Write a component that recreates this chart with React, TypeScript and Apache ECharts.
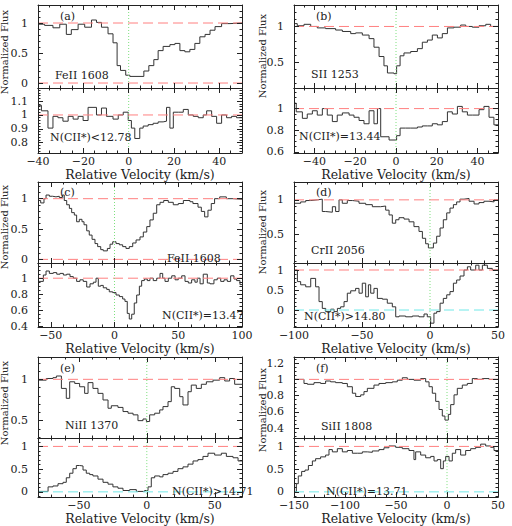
import React, { useEffect, useRef } from "react";
import * as echarts from "echarts";

// ---------- data (step histograms: bin edges in km/s, normalized flux per bin) ----------
// Panel (a) FeII 1608 / CII*
const aTopEdges = [-40, -37.1, -33.4, -30.4, -27.5, -25.3, -22.3, -19.4, -16.4, -14.2, -12, -9.1, -6.9, -5.1, -3.6, -1.3, 0.5, 6.7, 8.9, 11.1, 13, 15.2, 18.2, 20.4, 22.6, 24.8, 27, 29.2, 31.4, 33.7, 35.9, 38.1, 41, 44.7, 50];
const aTopFlux = [0.98, 0.96, 0.92, 0.98, 0.81, 0.89, 0.98, 0.93, 1.05, 1.01, 0.93, 0.82, 0.67, 0.29, 0.21, 0.13, 0.11, 0.2, 0.29, 0.39, 0.54, 0.61, 0.64, 0.66, 0.54, 0.52, 0.56, 0.66, 0.77, 0.81, 0.88, 0.94, 0.99, 1.0];
const aBotEdges = [-40, -38.5, -35.6, -33.4, -31.2, -29, -26.7, -24.5, -22.3, -20.1, -17.9, -14.2, -12, -9.8, -6.9, -4.6, -2.4, -0.2, 1.2, 2.7, 4.9, 6.4, 8.6, 10.8, 13, 15.2, 16.7, 18.2, 19.7, 21.9, 24.1, 26.3, 28.5, 30.7, 32.9, 34.4, 36.6, 38.8, 41, 43.2, 45.4, 47.6, 50];
const aBotFlux = [1.07, 1.03, 0.905, 0.99, 0.98, 0.955, 0.99, 0.97, 0.99, 0.96, 1.055, 1.0, 1.05, 0.99, 0.97, 1.0, 1.02, 0.96, 0.905, 0.83, 0.905, 0.92, 0.93, 0.94, 0.95, 0.955, 1.055, 0.905, 1.02, 1.02, 1.04, 1.0, 0.99, 0.98, 1.0, 1.03, 0.99, 0.94, 1.0, 0.98, 0.99, 0.98];

// Panel (b) SII 1253 / CII*
const bTopEdges = [-50, -48.4, -45.1, -41.8, -38.6, -34.5, -29.6, -26.3, -22.2, -19.8, -16.5, -13.2, -10.8, -8.3, -5.9, -4.2, -1, 0.3, 2, 3.9, 7.2, 10.5, 12.9, 15.4, 17.8, 20.3, 22.7, 25.2, 28.4, 31.7, 34.2, 37.4, 40.7, 44, 46.4, 50];
const bTopFlux = [1.04, 1.01, 1.03, 1.0, 0.98, 0.97, 0.95, 0.93, 0.9, 0.91, 0.88, 0.83, 0.71, 0.58, 0.45, 0.35, 0.34, 0.45, 0.59, 0.63, 0.65, 0.69, 0.78, 0.81, 0.88, 0.84, 0.9, 0.98, 0.99, 1.02, 1.0, 0.99, 1.01, 1.03, 1.0];
const bBotEdges = [-50, -48.9, -45.9, -43.5, -41, -38.6, -36.1, -33.7, -31.2, -28.8, -26.3, -23, -20.6, -18.1, -15.7, -13.2, -10.8, -9.1, -7.5, -3.4, 0.3, 2, 4.7, 7.2, 10.5, 12.9, 15.4, 17.8, 20.3, 22.7, 25.2, 27.6, 30.1, 32.5, 35, 37.4, 40.7, 43.1, 45.6, 48, 50];
const bBotFlux = [1.05, 0.97, 0.91, 0.95, 0.98, 0.94, 1.0, 0.94, 0.88, 0.94, 0.96, 0.94, 0.92, 0.89, 0.86, 0.98, 0.86, 1.0, 0.74, 0.71, 0.75, 0.82, 0.82, 0.82, 0.83, 0.84, 0.84, 0.86, 0.85, 0.88, 0.97, 0.95, 1.02, 0.97, 0.94, 0.94, 0.99, 1.02, 0.92, 0.85];

// Panel (c) FeII 1608 / CII*
const cTopEdges = [-60, -57.9, -55.3, -53.7, -51.1, -48.5, -45.9, -43.3, -40.9, -39.4, -37.5, -35.4, -33.6, -31.5, -29.7, -27.6, -25.5, -23.9, -21.8, -19.8, -17.6, -15.3, -13.2, -10.8, -8.8, -5.6, -3.5, -1.4, 1.2, 3.8, 6.4, 9, 11.6, 14.3, 16.9, 20, 22.6, 25.3, 27.8, 30.4, 33.1, 35.7, 38.6, 42.2, 46.1, 50, 54, 59.2, 61.5, 65.5, 68.1, 70.7, 73.3, 75.9, 78.5, 82.5, 87.7, 92.9, 100];
const cTopFlux = [0.97, 0.93, 1.0, 1.06, 1.04, 1.03, 1.04, 1.02, 1.06, 0.97, 0.9, 0.84, 0.77, 0.73, 0.62, 0.66, 0.62, 0.57, 0.47, 0.4, 0.33, 0.26, 0.21, 0.16, 0.14, 0.18, 0.25, 0.29, 0.26, 0.24, 0.21, 0.18, 0.21, 0.27, 0.32, 0.37, 0.45, 0.54, 0.65, 0.76, 0.9, 0.94, 0.97, 0.94, 0.9, 0.92, 0.97, 0.95, 0.92, 0.86, 0.79, 0.7, 0.81, 0.92, 1.0, 1.03, 1.0, 0.99];
const cBotEdges = [-60, -55.8, -53.7, -51.1, -48, -45.3, -42.7, -40.1, -37.5, -34.9, -32.3, -29.7, -27.1, -24.5, -21.8, -19.2, -16.6, -14.5, -12.7, -10.8, -8.8, -6.1, -4.1, -1.4, 1.2, 3.8, 6.4, 8.2, 10, 11.6, 13.5, 15.5, 17.4, 19.5, 21.3, 23.4, 25.7, 27.8, 30.4, 33.1, 35.7, 37.8, 39.6, 42.2, 44.9, 47.5, 50, 52.7, 55.3, 57.9, 60.5, 63.1, 64.9, 67.1, 69.6, 72.8, 74.9, 78, 80.6, 83.3, 85.9, 88.5, 91.1, 93.7, 95.8, 98.4, 100];
const cBotFlux = [0.96, 1.04, 1.09, 1.06, 1.07, 1.05, 1.06, 1.04, 1.05, 1.02, 1.0, 0.96, 0.98, 0.96, 0.89, 0.93, 0.95, 1.0, 0.9, 0.91, 0.88, 0.86, 0.83, 0.82, 0.79, 0.77, 0.74, 0.71, 0.56, 0.49, 0.55, 0.69, 0.79, 0.9, 0.97, 0.99, 0.97, 1.0, 0.97, 1.0, 1.06, 1.0, 0.96, 1.0, 1.03, 0.98, 1.0, 1.03, 0.96, 0.94, 0.98, 0.95, 1.0, 0.93, 1.05, 0.94, 0.93, 0.98, 1.0, 0.96, 0.98, 0.96, 1.03, 0.99, 0.97, 0.92];

// Panel (d) CrII 2056 / CII*
const dTopEdges = [-100, -95.1, -91.4, -87.7, -82.8, -79.2, -76.7, -71.8, -69.4, -66.9, -64.5, -60.8, -57.1, -52.2, -47.3, -42.4, -36.3, -32.6, -30.1, -27.7, -25.2, -22.8, -19.1, -15.4, -11.8, -8.1, -5.6, -3.2, -1.2, 2.5, 4.9, 7.4, 9.8, 12.3, 14.7, 17.2, 19.6, 22.1, 25, 28.7, 32.4, 36, 39.7, 43.4, 47.1, 50];
const dTopFlux = [0.95, 0.97, 0.99, 1.0, 1.01, 0.83, 0.82, 0.9, 0.83, 1.0, 0.95, 0.99, 0.98, 0.95, 0.93, 0.9, 0.91, 0.85, 0.78, 0.66, 0.71, 0.74, 0.72, 0.68, 0.61, 0.54, 0.44, 0.36, 0.3, 0.37, 0.47, 0.59, 0.71, 0.81, 0.88, 0.93, 0.97, 1.01, 1.02, 0.98, 0.94, 0.96, 0.98, 0.97, 1.0];
const dBotEdges = [-100, -97.5, -95.1, -91.4, -87.7, -84.1, -81.6, -79.2, -76.7, -73, -70.6, -68.1, -65.7, -63.2, -60.8, -58.3, -54.7, -52.2, -49.8, -47.3, -45.3, -43.6, -41.2, -38.7, -35, -31.4, -27.7, -25.2, -22.8, -17.9, -13, -8.1, -4.4, -2, 0.5, 2.9, 4.9, 7.4, 9.8, 12.3, 14.7, 17.2, 19.6, 22.1, 25, 27.5, 29.9, 33.6, 36, 38.5, 42.2, 45.8, 50];
const dBotFlux = [1.0, 0.71, 0.63, 0.58, 0.79, 0.58, 0.21, 0.04, -0.04, 0.02, -0.04, 0.04, 0.08, 0.21, 0.42, 0.48, 0.54, 0.42, 0.67, 0.33, 0.63, 0.42, 0.54, 0.29, 0.27, 0.17, 0.08, -0.17, -0.15, -0.17, -0.15, -0.17, -0.1, -0.17, -0.33, -0.08, -0.04, 0.17, 0.29, 0.38, 0.46, 0.67, 0.75, 0.85, 1.0, 1.08, 1.0, 1.12, 1.0, 1.12, 1.04, 1.0];

// Panel (e) NiII 1370 / CII*
const eTopEdges = [-80, -73.9, -69, -66.5, -62.8, -59.2, -56.7, -53, -49.4, -45.7, -43.2, -39.6, -35.9, -32.2, -28.5, -26.1, -21.2, -17.5, -13.8, -10.1, -6.5, -2.8, -0.3, 2.1, 5.8, 9.5, 11.9, 15.6, 18, 20.5, 24.2, 26.6, 30.3, 32.7, 36.4, 40.1, 43.8, 48.7, 53.6, 57.3, 60.9, 64.6, 70];
const eTopFlux = [0.99, 1.01, 1.02, 1.04, 0.89, 0.77, 0.97, 0.95, 0.91, 0.83, 0.96, 0.89, 0.83, 0.75, 0.65, 0.68, 0.66, 0.61, 0.59, 0.57, 0.5, 0.52, 0.49, 0.57, 0.59, 0.63, 0.67, 0.73, 0.91, 0.89, 0.79, 0.69, 0.85, 0.93, 0.89, 0.94, 0.97, 0.99, 1.02, 0.98, 1.01, 0.94];
const eBotEdges = [-80, -76.3, -72.6, -69, -65.3, -61.6, -59.2, -56.7, -54.3, -51.8, -49.4, -46.9, -44.5, -42, -39.6, -35.9, -32.2, -28.5, -24.9, -21.2, -17.5, -12.6, -7.7, -1.6, 0.9, 3.3, 5.8, 9.5, 11.9, 15.6, 19.3, 22.9, 26.6, 30.3, 34, 37.6, 41.3, 45, 49.9, 54.8, 58.5, 63.4, 67.1, 70];
const eBotFlux = [0.01, 0.01, 0.11, 0.13, 0.18, 0.21, 0.31, 0.41, 0.51, 0.58, 0.57, 0.48, 0.41, 0.38, 0.35, 0.28, 0.21, 0.17, 0.11, 0.08, 0.03, 0.05, 0.01, 0.03, 0.11, 0.31, 0.35, 0.33, 0.38, 0.41, 0.45, 0.51, 0.55, 0.61, 0.68, 0.71, 0.78, 0.85, 0.81, 0.85, 0.78, 0.75, 0.68];

// Panel (f) SiII 1808 / CII*
const fTopEdges = [-150, -140.2, -136.9, -130.4, -123.9, -119, -114.1, -109.2, -102.6, -97.7, -92.8, -89.5, -84.6, -81.4, -78.1, -71.6, -66.7, -60.1, -53.6, -48.7, -43.8, -38.9, -32.4, -25.8, -20.9, -17.6, -14.4, -11.1, -7.8, -4.6, -2, 1.3, 3.6, 6.9, 10.1, 15, 19.9, 24.8, 29.7, 34.6, 41.2, 50];
const fTopFlux = [1.0, 0.95, 0.94, 0.96, 0.95, 0.98, 0.97, 0.96, 0.95, 0.91, 0.83, 0.79, 0.81, 0.85, 0.89, 0.93, 0.95, 0.96, 0.97, 0.99, 1.02, 1.0, 0.99, 1.01, 0.97, 0.91, 0.83, 0.73, 0.63, 0.55, 0.5, 0.57, 0.69, 0.81, 0.89, 0.93, 0.95, 1.01, 1.0, 1.01, 1.0];
const fBotEdges = [-150, -147.7, -145.8, -142.5, -139.2, -135.9, -132, -128.8, -123.9, -119, -115.7, -112.4, -107.5, -102.6, -97.7, -92.8, -87.9, -83, -78.1, -73.2, -66.7, -61.8, -56.9, -50.3, -43.8, -37.3, -32.4, -30.7, -25.8, -20.9, -16, -12.7, -9.5, -6.2, -3.6, -1.3, 2, 5.2, 8.5, 13.4, 18.3, 23.2, 28.1, 33, 37.9, 42.8, 46.1, 50];
const fBotFlux = [0.0, 0.18, 0.35, 0.45, 0.48, 0.58, 0.68, 0.73, 0.77, 0.81, 0.93, 0.88, 0.95, 0.88, 0.91, 0.85, 0.85, 0.88, 0.87, 0.9, 0.93, 0.97, 1.01, 0.98, 0.95, 0.91, 0.71, 0.88, 0.81, 0.75, 0.78, 0.68, 0.71, 0.51, 0.68, 0.78, 0.68, 0.85, 0.93, 0.81, 0.91, 0.95, 0.98, 1.05, 1.01, 0.98, 0.91];

// tick labels
const xTicksAB = [-40, -20, 0, 20, 40];
const xTicksC = [-50, 0, 50, 100];
const xTicksD = [-100, -50, 0, 50];
const xTicksE = [-50, 0, 50];
const xTicksF = [-150, -100, -50, 0, 50];
const yTicksHalf0 = [0, 0.5, 1];
const yTicksHalf = [0.5, 1];
const yTicksABot = [0.8, 0.9, 1, 1.1];
const yTicksBBot = [0.6, 0.8, 1];
const yTicksCBot = [0.4, 0.6, 0.8, 1];
const yTicksFTop = [0.4, 0.6, 0.8, 1, 1.2];

const panelTags = ["(a)", "(b)", "(c)", "(d)", "(e)", "(f)"];
const ionNames = ["FeII 1608", "SII 1253", "FeII 1608", "CrII 2056", "NiII 1370", "SiII 1808"];
const columnTexts = ["N(CII*)<12.78", "N(CII*)=13.44", "N(CII*)=13.47", "N(CII*)>14.80", "N(CII*)>14.71", "N(CII*)=13.71"];

// ---------- layout & style ----------
const FONT = "DejaVu Serif";
const INK = "#222";
const HIST = "#333";
const RED = "#ff8080";
const CYAN = "#70e8e8";
const GREEN = "#7ee07e";
const COLS = [38, 294];
const PW = 204;
const ROWS = [
  [5, 88, 153],
  [182, 263, 327],
  [357, 438, 503],
];

type Sub = {
  edges: number[];
  flux: number[];
  yr: [number, number];
  yTicks: number[];
  yMinor: number;
  red: number[];
  cyan: number[];
};
type Panel = {
  col: number;
  row: number;
  xr: [number, number];
  xTicks: number[];
  xMinor: number;
  top: Sub;
  bot: Sub;
};

const panels: Panel[] = [
  {
    col: 0, row: 0, xr: [-40, 50], xTicks: xTicksAB, xMinor: 5,
    top: { edges: aTopEdges, flux: aTopFlux, yr: [-0.083, 1.3], yTicks: yTicksHalf0, yMinor: 0.1, red: [1, 0], cyan: [] },
    bot: { edges: aBotEdges, flux: aBotFlux, yr: [0.725, 1.195], yTicks: yTicksABot, yMinor: 0.02, red: [1], cyan: [] },
  },
  {
    col: 1, row: 0, xr: [-50, 50], xTicks: xTicksAB, xMinor: 5,
    top: { edges: bTopEdges, flux: bTopFlux, yr: [0.14, 1.3], yTicks: yTicksHalf, yMinor: 0.1, red: [1], cyan: [] },
    bot: { edges: bBotEdges, flux: bBotFlux, yr: [0.59, 1.19], yTicks: yTicksBBot, yMinor: 0.05, red: [1], cyan: [] },
  },
  {
    col: 0, row: 1, xr: [-60, 100], xTicks: xTicksC, xMinor: 10,
    top: { edges: cTopEdges, flux: cTopFlux, yr: [-0.06, 1.275], yTicks: yTicksHalf0, yMinor: 0.1, red: [1, 0], cyan: [] },
    bot: { edges: cBotEdges, flux: cBotFlux, yr: [0.39, 1.19], yTicks: yTicksCBot, yMinor: 0.05, red: [1], cyan: [] },
  },
  {
    col: 1, row: 1, xr: [-100, 50], xTicks: xTicksD, xMinor: 10,
    top: { edges: dTopEdges, flux: dTopFlux, yr: [0.08, 1.26], yTicks: yTicksHalf, yMinor: 0.1, red: [1], cyan: [] },
    bot: { edges: dBotEdges, flux: dBotFlux, yr: [-0.425, 1.175], yTicks: yTicksHalf0, yMinor: 0.1, red: [1], cyan: [0] },
  },
  {
    col: 0, row: 2, xr: [-80, 70], xTicks: xTicksE, xMinor: 10,
    top: { edges: eTopEdges, flux: eTopFlux, yr: [0.29, 1.27], yTicks: yTicksHalf, yMinor: 0.1, red: [1], cyan: [] },
    bot: { edges: eBotEdges, flux: eBotFlux, yr: [-0.115, 1.185], yTicks: yTicksHalf0, yMinor: 0.1, red: [1], cyan: [0] },
  },
  {
    col: 1, row: 2, xr: [-150, 50], xTicks: xTicksF, xMinor: 10,
    top: { edges: fTopEdges, flux: fTopFlux, yr: [0.28, 1.275], yTicks: yTicksFTop, yMinor: 0.05, red: [1], cyan: [] },
    bot: { edges: fBotEdges, flux: fBotFlux, yr: [-0.115, 1.185], yTicks: yTicksHalf0, yMinor: 0.1, red: [1], cyan: [0] },
  },
];

// inner text positions [tag, ion, column-density]
const textPos: [number, number][][] = [
  [[60, 16], [55, 75], [50, 137]],
  [[316, 16], [311, 74], [299, 136]],
  [[60, 192], [167, 258], [162, 315]],
  [[316, 192], [311, 250], [304, 316]],
  [[60, 368], [65, 425], [172, 491]],
  [[316, 368], [321, 426], [326, 491]],
];
const yTitlePos: [number, number][] = [
  [4, 52], [262, 56], [4, 227], [262, 232], [4, 403], [262, 410],
];

function tickRange(min: number, max: number, step: number): number[] {
  const out: number[] = [];
  const k0 = Math.ceil(min / step - 1e-9);
  const k1 = Math.floor(max / step + 1e-9);
  for (let k = k0; k <= k1; k++) out.push(+(k * step).toFixed(6));
  return out;
}

const fmt = (v: number) => {
  const s = String(+v.toFixed(6));
  return s.replace("-", "\u2212");
};

function buildOption() {
  const grid: any[] = [];
  const xAxis: any[] = [];
  const yAxis: any[] = [];
  const series: any[] = [];
  const graphic: any[] = [];
  let g = 0;

  panels.forEach((p, pi) => {
    const [t, d, b] = ROWS[p.row];
    const left = COLS[p.col];
    const subs: [Sub, number, number, boolean][] = [
      [p.top, t, d - t, false],
      [p.bot, d, b - d, true],
    ];
    subs.forEach(([s, top, height, isLower]) => {
      grid.push({ left, top, width: PW, height, containLabel: false });
      const xMinorVals = tickRange(p.xr[0], p.xr[1], p.xMinor);
      const xBase = {
        type: "value", gridIndex: g, min: p.xr[0], max: p.xr[1],
        splitLine: { show: false }, z: 5,
      };
      xAxis.push({
        ...xBase, position: "bottom",
        axisLine: { show: true, onZero: false, lineStyle: { color: INK, width: 1 } },
        axisTick: { show: true, inside: true, length: 5, customValues: p.xTicks, lineStyle: { color: INK } },
        axisLabel: {
          show: isLower, customValues: p.xTicks, margin: 3, color: INK,
          fontFamily: FONT, fontSize: 11, showMinLabel: true, showMaxLabel: true,
          formatter: (v: number) => fmt(v),
        },
        name: isLower ? "Relative Velocity (km/s)" : "",
        nameLocation: "middle", nameGap: 12,
        nameTextStyle: { fontFamily: FONT, fontSize: 12.5, color: INK },
      });
      xAxis.push({
        ...xBase, position: "top",
        axisLine: { show: true, onZero: false, lineStyle: { color: INK, width: 1 } },
        axisTick: { show: true, inside: true, length: 5, customValues: p.xTicks, lineStyle: { color: INK } },
        axisLabel: { show: false },
      });
      ["bottom", "top"].forEach((pos) =>
        xAxis.push({
          ...xBase, position: pos,
          axisLine: { show: false, onZero: false },
          axisTick: { show: true, inside: true, length: 2.5, customValues: xMinorVals, lineStyle: { color: INK } },
          axisLabel: { show: false },
        })
      );

      const yMinorVals = tickRange(s.yr[0], s.yr[1], s.yMinor);
      const yBase = {
        type: "value", gridIndex: g, min: s.yr[0], max: s.yr[1],
        splitLine: { show: false }, z: 5,
      };
      yAxis.push({
        ...yBase, position: "left",
        axisLine: { show: true, onZero: false, lineStyle: { color: INK, width: 1 } },
        axisTick: { show: true, inside: true, length: 5, customValues: s.yTicks, lineStyle: { color: INK } },
        axisLabel: {
          show: true, customValues: s.yTicks, margin: 10, color: INK,
          fontFamily: FONT, fontSize: 11, showMinLabel: true, showMaxLabel: true,
          formatter: (v: number) => fmt(v),
        },
      });
      yAxis.push({
        ...yBase, position: "right",
        axisLine: { show: true, onZero: false, lineStyle: { color: INK, width: 1 } },
        axisTick: { show: true, inside: true, length: 5, customValues: s.yTicks, lineStyle: { color: INK } },
        axisLabel: { show: false },
      });
      ["left", "right"].forEach((pos) =>
        yAxis.push({
          ...yBase, position: pos,
          axisLine: { show: false, onZero: false },
          axisTick: { show: true, inside: true, length: 2.5, customValues: yMinorVals, lineStyle: { color: INK } },
          axisLabel: { show: false },
        })
      );

      const ax = g * 4;
      const hist: [number, number][] = s.flux.map((f, i) => [s.edges[i], f]);
      hist.push([s.edges[s.edges.length - 1], s.flux[s.flux.length - 1]]);
      series.push({
        type: "line", xAxisIndex: ax, yAxisIndex: ax, data: hist, step: "end",
        symbol: "none", silent: true, lineStyle: { color: HIST, width: 1 }, z: 2,
      });
      s.red.forEach((lv) =>
        series.push({
          type: "line", xAxisIndex: ax, yAxisIndex: ax, symbol: "none", silent: true,
          data: [[p.xr[0], lv], [p.xr[1], lv]],
          lineStyle: { color: RED, width: 1, type: [10, 5] }, z: 3,
        })
      );
      s.cyan.forEach((lv) =>
        series.push({
          type: "line", xAxisIndex: ax, yAxisIndex: ax, symbol: "none", silent: true,
          data: [[p.xr[0], lv], [p.xr[1], lv]],
          lineStyle: { color: CYAN, width: 1, type: [10, 5] }, z: 3,
        })
      );
      series.push({
        type: "line", xAxisIndex: ax, yAxisIndex: ax, symbol: "none", silent: true,
        data: [[0, s.yr[0]], [0, s.yr[1]]],
        lineStyle: { color: GREEN, width: 1, type: [1, 2] }, z: 3,
      });
      g++;
    });

    const tp = textPos[pi];
    const texts = [panelTags[pi], ionNames[pi], columnTexts[pi]];
    texts.forEach((txt, k) =>
      graphic.push({
        type: "text", x: tp[k][0], y: tp[k][1], z: 10,
        style: {
          text: txt, fill: INK, font: `11px '${FONT}'`,
          textAlign: "left", textVerticalAlign: "middle",
        },
      })
    );
    graphic.push({
      type: "text", x: yTitlePos[pi][0], y: yTitlePos[pi][1], rotation: Math.PI / 2, z: 10,
      style: {
        text: "Normalized Flux", fill: INK, font: `10px '${FONT}'`,
        textAlign: "center", textVerticalAlign: "middle",
      },
    });
  });

  return {
    animation: false,
    backgroundColor: "#ffffff",
    grid, xAxis, yAxis, series, graphic,
  };
}

export default function App() {
  const ref = useRef<HTMLDivElement>(null);
  useEffect(() => {
    if (!ref.current) return;
    const chart = echarts.init(ref.current, undefined, { renderer: "svg" });
    chart.setOption(buildOption() as any);
    return () => chart.dispose();
  }, []);
  return (
    <div
      ref={ref}
      style={{ position: "fixed", left: 0, top: 0, width: 512, height: 526, background: "#fff" }}
    />
  );
}
